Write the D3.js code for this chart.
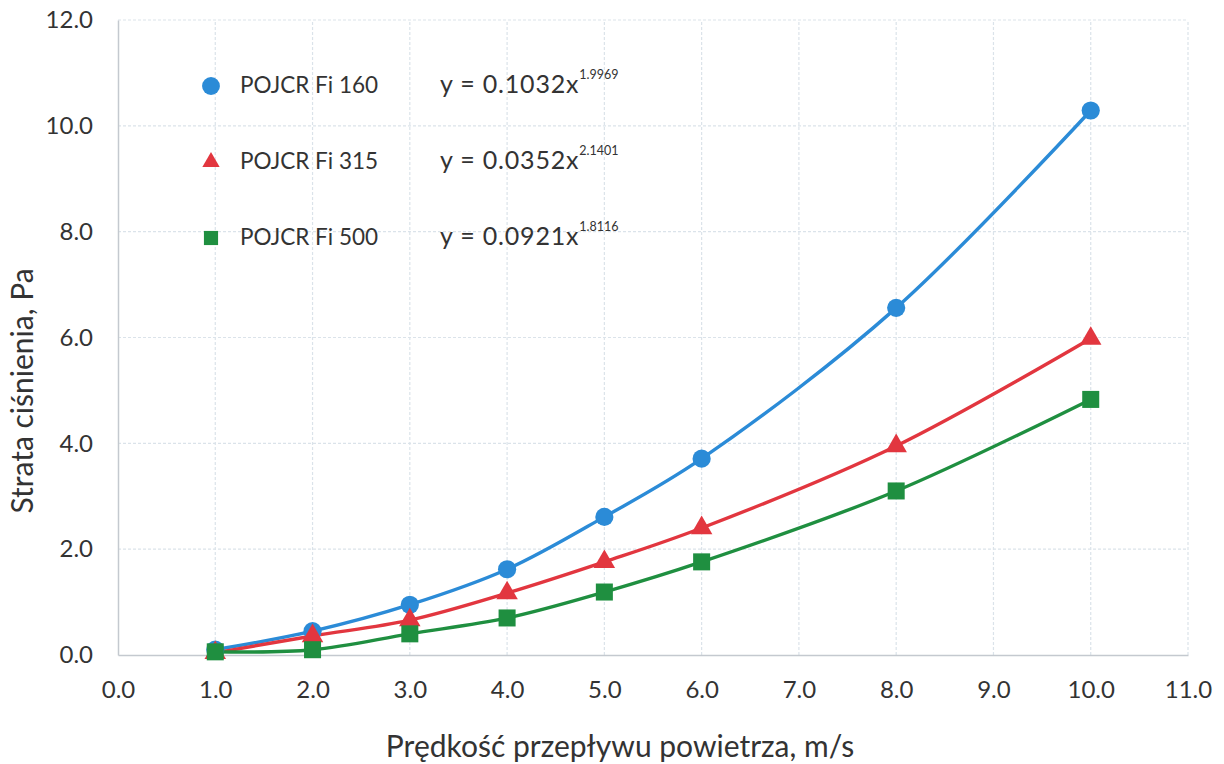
<!DOCTYPE html>
<html>
<head>
<meta charset="utf-8">
<script src="https://cdn.jsdelivr.net/npm/d3@7"></script>
<style>
  body { margin: 0; background: #fff; }
  text { font-family: Lato, "Open Sans", sans-serif; fill: #333; }
</style>
</head>
<body>
<svg id="chart" width="1224" height="764"></svg>
<script>
// velocities, m/s
const speeds = [1, 2, 3, 4, 5, 6, 8, 10];

// pressure loss, Pa
const fi160 = [0.10, 0.45, 0.95, 1.62, 2.61, 3.71, 6.56, 10.29];
const fi315 = [0.04, 0.36, 0.66, 1.17, 1.76, 2.40, 3.95, 5.98];
const fi500 = [0.06, 0.10, 0.40, 0.70, 1.19, 1.76, 3.10, 4.83];

const seriesNames = ["POJCR Fi 160", "POJCR Fi 315", "POJCR Fi 500"];
const coefs = ["0.1032", "0.0352", "0.0921"];
const exps = ["1.9969", "2.1401", "1.8116"];

const xTicks = [0, 1, 2, 3, 4, 5, 6, 7, 8, 9, 10, 11];
const yTicks = [0, 2, 4, 6, 8, 10, 12];

const colors = ["#2b8bd7", "#e2363f", "#1f8f40"];
const shapes = [d3.symbolCircle, d3.symbolTriangle, d3.symbolSquare];
const sizes = [260, 200, 290];
const legendSizes = [250, 130, 200];

const svg = d3.select("#chart");
const margin = {left: 118, right: 36, top: 20, bottom: 109};
const width = 1224, height = 764;

const x = d3.scaleLinear().domain([0, 11]).range([margin.left, width - margin.right]);
const y = d3.scaleLinear().domain([0, 12]).range([height - margin.bottom, margin.top]);

// gridlines
const grid = svg.append("g");
grid.selectAll(".gy").data(yTicks.slice(1)).enter().append("line")
    .attr("x1", x(0)).attr("x2", x(11))
    .attr("y1", d => y(d)).attr("y2", d => y(d))
    .attr("stroke", "#dbe3ea").attr("stroke-width", 1.2)
    .attr("stroke-dasharray", "3,2");
grid.selectAll(".gx").data(xTicks.slice(1)).enter().append("line")
    .attr("x1", d => x(d)).attr("x2", d => x(d))
    .attr("y1", y(0)).attr("y2", y(12))
    .attr("stroke", "#dbe3ea").attr("stroke-width", 1.2)
    .attr("stroke-dasharray", "3,2");

// axes
const xAxis = svg.append("g")
    .attr("transform", `translate(0,${y(0)})`)
    .call(d3.axisBottom(x).tickValues(xTicks).tickFormat(d3.format(".1f")).tickSize(0).tickPadding(26));
const yAxis = svg.append("g")
    .attr("transform", `translate(${x(0)},0)`)
    .call(d3.axisLeft(y).tickValues(yTicks).tickFormat(d3.format(".1f")).tickSize(0).tickPadding(25));
[xAxis, yAxis].forEach(a => {
    a.select(".domain").attr("stroke", "#c4c9cf").attr("stroke-width", 1.5);
    a.selectAll("text").style("font-size", "24px").attr("fill", "#333");
});

// axis titles
svg.append("text")
    .attr("x", 620).attr("y", 757)
    .attr("text-anchor", "middle")
    .style("font-size", "30px")
    .text("Prędkość przepływu powietrza, m/s");
svg.append("text")
    .attr("transform", "translate(33,391) rotate(-90)")
    .attr("text-anchor", "middle")
    .style("font-size", "30px")
    .text("Strata ciśnienia, Pa");

// series
const allSeries = [fi160, fi315, fi500];
const line = d3.line()
    .x((d, i) => x(speeds[i]))
    .y(d => y(d))
    .curve(d3.curveCatmullRom.alpha(0.5));

allSeries.forEach((vals, s) => {
    svg.append("path")
        .datum(vals)
        .attr("d", line)
        .attr("fill", "none")
        .attr("stroke", colors[s])
        .attr("stroke-width", 3.4);
});
allSeries.forEach((vals, s) => {
    svg.append("g").selectAll("path").data(vals).enter().append("path")
        .attr("transform", (d, i) => `translate(${x(speeds[i])},${y(d)})`)
        .attr("d", d3.symbol().type(shapes[s]).size(sizes[s]))
        .attr("fill", colors[s]);
});

// legend with fitted equations
const legend = svg.append("g");
seriesNames.forEach((name, s) => {
    const base = 93 + s * 76;
    legend.append("path")
        .attr("transform", `translate(211,${base - 7})`)
        .attr("d", d3.symbol().type(shapes[s]).size(legendSizes[s]))
        .attr("fill", colors[s]);
    legend.append("text")
        .attr("x", 240).attr("y", base)
        .style("font-size", "22.5px")
        .text(name);
    const eq = legend.append("text")
        .attr("x", 440).attr("y", base)
        .style("font-size", "25px");
    eq.append("tspan").style("letter-spacing", "0.8px").text(`y = ${coefs[s]}x`);
    eq.append("tspan").attr("dy", -14).style("font-size", "12.5px").text(exps[s]);
});
</script>
</body>
</html>
